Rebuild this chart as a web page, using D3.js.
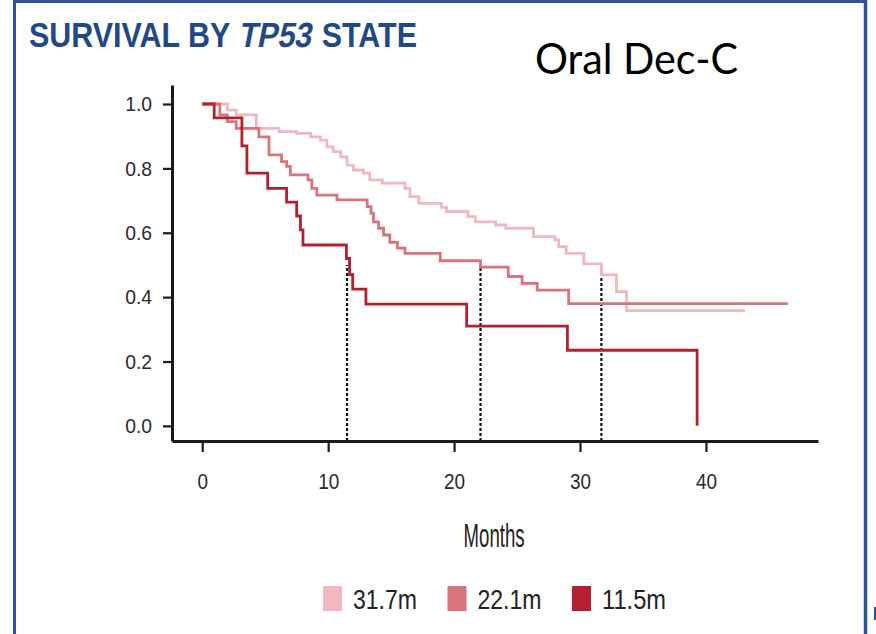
<!DOCTYPE html>
<html>
<head>
<meta charset="utf-8">
<script src="https://cdn.jsdelivr.net/npm/d3@7/dist/d3.min.js"></script>
<style>
  html, body { margin: 0; padding: 0; background: #ffffff; }
  svg { display: block; }
</style>
</head>
<body>
<script>
// ---------------- DATA ----------------
const seriesNames = ["31.7m", "22.1m", "11.5m"];
const medianMonths = [31.7, 22.1, 11.5];

const lightTimes = [0, 2.0, 2.7, 4.3, 6.1, 7.5, 8.6, 9.4, 9.9, 10.4, 11.0, 11.5, 12.0, 12.8, 13.3, 14.3, 16.1, 16.5, 17.2, 19.0, 19.4, 21.1, 21.7, 23.3, 24.1, 26.3, 28.0, 28.3, 28.9, 30.3, 31.7, 32.9, 33.7, 43.1];
const lightSurv  = [1.0, 0.981, 0.966, 0.924, 0.914, 0.909, 0.898, 0.888, 0.867, 0.852, 0.836, 0.81, 0.795, 0.785, 0.764, 0.754, 0.738, 0.712, 0.691, 0.679, 0.666, 0.65, 0.634, 0.624, 0.614, 0.588, 0.578, 0.557, 0.536, 0.503, 0.469, 0.417, 0.358, 0.358];

const medTimes = [0, 1.4, 2.0, 2.7, 4.5, 5.3, 6.3, 6.7, 7.0, 8.4, 8.7, 9.1, 10.7, 13.1, 13.4, 13.6, 14.0, 14.4, 14.9, 15.5, 16.1, 18.9, 22.1, 24.3, 25.4, 26.6, 29.1, 46.5];
const medSurv  = [1.0, 0.966, 0.945, 0.924, 0.898, 0.842, 0.821, 0.806, 0.78, 0.764, 0.738, 0.717, 0.702, 0.681, 0.66, 0.634, 0.614, 0.593, 0.57, 0.552, 0.536, 0.513, 0.493, 0.464, 0.443, 0.422, 0.38, 0.38];

const darkTimes = [0, 0.95, 3.15, 3.55, 5.2, 6.7, 7.5, 7.8, 8.0, 11.45, 11.7, 11.95, 13.0, 21.0, 29.0, 39.3];
const darkSurv  = [1.0, 0.957, 0.87, 0.785, 0.738, 0.695, 0.652, 0.609, 0.562, 0.52, 0.47, 0.425, 0.378, 0.31, 0.235, 0.0];

const xTicks = [0, 10, 20, 30, 40];
const yTicks = [0.0, 0.2, 0.4, 0.6, 0.8, 1.0];
const xDomain = [-2.4, 48.9];
const yDomain = [-0.047, 1.059];

const titleParts = ["SURVIVAL BY", "TP53", "STATE"];
const titleItalic = [false, true, false];

const colors = ["#f1b8c0", "#d9737e", "#b3202e"];

// ---------------- CHART ----------------
const W = 876, H = 634;
const svg = d3.select("body").append("svg").attr("width", W).attr("height", H);

const x = d3.scaleLinear().domain(xDomain).range([172, 818]);
const y = d3.scaleLinear().domain(yDomain).range([441, 85]);

function fit(sel, w) {
  sel.each(function() {
    const len = this.getComputedTextLength();
    if (len > 0) d3.select(this).attr("textLength", w).attr("lengthAdjust", "spacingAndGlyphs");
  });
}
function squeeze(sel, f) {
  sel.each(function() {
    const len = this.getComputedTextLength();
    if (len > 0) d3.select(this).attr("textLength", len * f).attr("lengthAdjust", "spacingAndGlyphs");
  });
}

// frame
const blue = "#2c5593";
svg.append("line").attr("x1", 14.5).attr("x2", 14.5).attr("y1", 0).attr("y2", H).attr("stroke", blue).attr("stroke-width", 3);
svg.append("line").attr("x1", 13).attr("x2", 867).attr("y1", 1.5).attr("y2", 1.5).attr("stroke", blue).attr("stroke-width", 3);
svg.append("line").attr("x1", 865.5).attr("x2", 865.5).attr("y1", 0).attr("y2", H).attr("stroke", blue).attr("stroke-width", 3.5);
svg.append("rect").attr("x", 874).attr("y", 607).attr("width", 2).attr("height", 13).attr("fill", blue);

// title: pieces measured, then squeezed uniformly to fit the reference width;
// the italic piece is drawn as upright text slanted with skewX
const titleFont = 35;
const tp = svg.append("g").selectAll("text").data(titleParts).join("text")
  .attr("y", 0)
  .attr("font-family", "'Liberation Sans', Arial, sans-serif").attr("font-weight", "bold")
  .attr("font-size", titleFont).attr("fill", "#1f4a86")
  .text(d => d);
const lens = [];
tp.each(function() { lens.push(this.getComputedTextLength()); });
const gaps = [titleFont * 0.25, titleFont * 0.36];
const totalLen = d3.sum(lens) + d3.sum(gaps);
const tf = 388 / totalLen;
let cx = 29;
tp.each(function(d, i) {
  d3.select(this).attr("x", 0)
    .attr("transform", `translate(${cx},47)` + (titleItalic[i] ? " skewX(-11)" : ""))
    .attr("textLength", lens[i] * tf).attr("lengthAdjust", "spacingAndGlyphs");
  cx += (lens[i] + (gaps[i] || 0)) * tf;
});

const sub = svg.append("text").attr("x", 535).attr("y", 74)
  .attr("font-family", "Lato, 'Open Sans', sans-serif")
  .attr("font-size", 42).attr("fill", "#000")
  .text("Oral Dec-C");
fit(sub, 203);

// axes
const gx = svg.append("g").attr("transform", `translate(0,${y(yDomain[0])})`)
  .call(d3.axisBottom(x).tickValues(xTicks).tickFormat(d3.format("d")).tickSize(11).tickSizeOuter(0).tickPadding(20));
const gy = svg.append("g").attr("transform", `translate(${x(xDomain[0])},0)`)
  .call(d3.axisLeft(y).tickValues(yTicks).tickFormat(d3.format(".1f")).tickSize(9).tickSizeOuter(0).tickPadding(11));

[gx, gy].forEach(g => {
  g.select(".domain").attr("stroke", "#1a1a1a").attr("stroke-width", 3);
  g.selectAll(".tick line").attr("stroke", "#1a1a1a").attr("stroke-width", 2.2);
  g.selectAll(".tick text").attr("font-family", "'Liberation Sans', Arial, sans-serif")
    .attr("font-size", 21).attr("fill", "#2a2a2a");
});
gx.selectAll(".tick text").attr("font-size", 22).attr("dy", "0.35em").attr("y", 40);
squeeze(gx.selectAll(".tick text"), 0.86);
squeeze(gy.selectAll(".tick text"), 0.92);

// axis title
const mt = svg.append("text").attr("x", (x(xTicks[0]) + x(xTicks[4])) / 2 + 40).attr("y", 547)
  .attr("text-anchor", "middle")
  .attr("font-family", "'Liberation Sans', Arial, sans-serif")
  .attr("font-size", 34).attr("fill", "#222")
  .text("Months");
fit(mt, 61);

// median dotted lines
const curvesData = [
  lightTimes.map((t, i) => [t, lightSurv[i]]),
  medTimes.map((t, i) => [t, medSurv[i]]),
  darkTimes.map((t, i) => [t, darkSurv[i]])
];

svg.append("g").selectAll("line").data(medianMonths).join("line")
  .attr("x1", d => x(d)).attr("x2", d => x(d))
  .attr("y1", y(yDomain[0])).attr("y2", y(0.5))
  .attr("stroke", "#111").attr("stroke-width", 2.2).attr("stroke-dasharray", "3,2");

// curves
const line = d3.line().x(d => x(d[0])).y(d => y(d[1])).curve(d3.curveStepAfter);
svg.append("g").selectAll("path").data(curvesData).join("path")
  .attr("d", line)
  .attr("fill", "none")
  .attr("stroke", (d, i) => colors[i])
  .attr("stroke-width", 2.8);

// legend
const legX = [323, 447.5, 572];
const lg = svg.append("g").selectAll("g").data(seriesNames).join("g")
  .attr("transform", (d, i) => `translate(${legX[i]},586)`);
lg.append("rect").attr("width", 19).attr("height", 25).attr("fill", (d, i) => colors[i]);
const lt = lg.append("text").attr("x", 30).attr("y", 23)
  .attr("font-family", "'Liberation Sans', Arial, sans-serif")
  .attr("font-size", 28).attr("fill", "#222")
  .text(d => d);
fit(lt, 64);
</script>
</body>
</html>
